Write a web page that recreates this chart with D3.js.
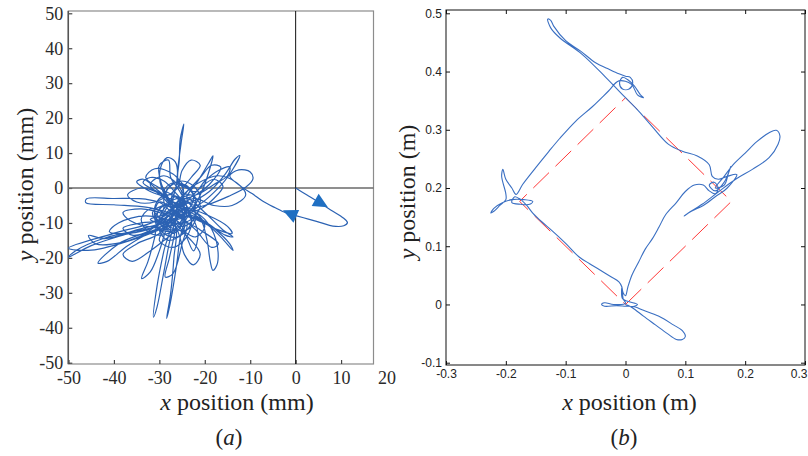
<!DOCTYPE html>
<html>
<head>
<meta charset="utf-8">
<script src="https://cdn.jsdelivr.net/npm/d3@7"></script>
<style>
  body { margin: 0; background: #fff; }
  svg { display: block; }
</style>
</head>
<body>
<script>
// ---- panel (a): sway path in mm ----
const xTicksA = [-50, -40, -30, -20, -10, 0, 10, 20];
const yTicksA = [-50, -40, -30, -20, -10, 0, 10, 20, 30, 40, 50];

const pathA = [
  [0, 0], [2.5, -2], [5, -4], [8, -6.5], [10.5, -8.6], [11.4, -9.9], [10.6, -10.8], [8.2, -10.9],
  [5.5, -9.9], [2.8, -8.9], [0, -7.9], [-2.2, -7.1], [-4.6, -5.6], [-7.2, -3.8], [-9.6, -1.6], [-12.2, 0.6],
  [-14.5, 3.5], [-12.5, 5.2], [-10, 4.6], [-9.4, 2.6], [-11, 0.2], [-14.8, -2.4], [-19.5, -4.8],
  [-24, -6], [-27.5, -4.5], [-28.5, -1], [-26.5, 1.5], [-24.8, 0], [-25, -4], [-26.5, -9], [-28.5, -12], [-30, -9], [-29, -5],
  [-33, -3.2], [-40, -3], [-46, -3.1], [-46.2, -4.2], [-40, -4.8], [-33, -5.5], [-28, -7],
  [-24.5, -8.5], [-22, -5], [-23, -1], [-25.8, 1.8],
  [-25.6, 8], [-25.4, 14], [-24.6, 18.3], [-25.2, 13], [-25.9, 6], [-26.4, 0],
  [-27.5, -3], [-30.5, -1], [-33.6, 1.6], [-32, 3], [-29, 2], [-26, -2],
  [-23, -6], [-21, -2], [-19.5, 3], [-18.2, 9.2], [-19.2, 7], [-21.5, 2], [-24, -3],
  [-22, -5], [-17, 0], [-14, 5], [-12.3, 9.3], [-13.3, 8.3], [-15.5, 4], [-19, -1], [-23, -4],
  [-27, -5], [-29.5, 0], [-29.8, 5.5], [-28.3, 8.7], [-26.5, 7.5], [-26, 3], [-26.8, -2],
  [-28, -8], [-31, -11], [-36.5, -9.3], [-38, -7], [-34, -6], [-29, -7.5],
  [-25.5, -10], [-24, -14], [-22.5, -18], [-21.5, -13], [-23.5, -7],
  [-26, -4], [-22, -2], [-19, 1], [-16.5, 6], [-18.5, 6.5], [-21, 3], [-24.5, -2],
  [-28, -9], [-35, -12], [-42, -14.5], [-45.6, -13.6], [-44, -16], [-38, -15.5], [-31, -12],
  [-27.5, -10], [-29, -18], [-30.5, -28], [-31.3, -37], [-30.5, -34], [-29, -24], [-27.5, -14],
  [-26, -8], [-24.5, -5], [-26.5, -2.5], [-28.5, -6],
  [-31, -11], [-38, -13.5], [-45, -16.5], [-50, -19.8], [-48.5, -18], [-42, -14.3], [-35, -12.3], [-29, -11],
  [-26.5, -11], [-26.8, -20], [-27.5, -30], [-28.4, -37.3], [-27.6, -33], [-26.2, -22], [-25.2, -13],
  [-23.5, -8], [-21, -9], [-19.5, -15], [-18.8, -21], [-18.2, -23.6], [-17.2, -21.5], [-17.5, -15], [-20, -9], [-23, -6.5],
  [-27, -7], [-32, -12], [-39, -16], [-43.5, -21.5], [-41.5, -21], [-37, -16.5], [-31.5, -12.5],
  [-28, -11], [-25, -8], [-20, -10], [-16.5, -14], [-13.8, -17.9], [-14.5, -16], [-18, -11.5], [-23, -7],
  [-27, -4], [-30, -6], [-31, -14], [-32.5, -21], [-33.9, -25.9], [-32, -24], [-30, -18], [-28.5, -12],
  [-26, -6], [-24, -3], [-20, -7], [-16, -12], [-13.8, -14], [-15.5, -13.5], [-19.5, -10], [-24, -7],
  [-28, -3], [-32, -1], [-35, 1.8], [-33.5, 2.5], [-30.5, -0.5], [-27, -5],
  [-30, -9], [-40, -13], [-50, -17.2], [-45, -17.8], [-34, -14], [-28, -11],
  [-24, -10], [-25, -16], [-27, -24.5], [-28.7, -25.5], [-27.8, -20], [-26.5, -12],
  [-26, -6], [-22.5, -3], [-18, -5], [-14, -5], [-11, -2], [-13, 1.5], [-17, 3.5], [-22, 1], [-25.5, -3],
  [-29, -9], [-34, -10], [-38, -11.5], [-36, -13.5], [-31, -12], [-27, -9],
  [-24, -6], [-25.5, -1], [-27.5, 3], [-28, 8], [-30, 6.5], [-29.5, 1], [-27.5, -4],
  [-26, -8], [-21, -12], [-17, -16], [-18.5, -17], [-22, -12], [-25.5, -8],
  [-28.5, -5], [-31.5, -7], [-30, -10], [-26.5, -9], [-23.5, -6], [-22.5, -2], [-24.5, 1], [-27, -1], [-27, -6],
  [-25, -11], [-22, -8], [-24, -4], [-27.5, -6], [-29.5, -9], [-27, -13], [-24.5, -9], [-25.5, -5],
  [-26, -3], [-30, 0], [-33, 3], [-31, 5.5], [-27, 4], [-24, 0],
  [-22, -1], [-20, 2], [-17, 5], [-14.5, 6], [-15, 3.5], [-18, 1], [-22, -2],
  [-25, -1], [-23, 3], [-21, 6.5], [-23, 8], [-25, 5], [-26, 0],
  [-28, -2], [-31, -4], [-35, -4], [-37, -2], [-34, 0], [-30, -1.5], [-27, -4],
  [-25, -7], [-21, -6], [-18, -3], [-16, 0.5], [-18, 2.5], [-21, 0], [-24, -4],
  [-27, -8], [-30, -12], [-28, -15], [-25, -13], [-24.5, -9], [-27, -6], [-30, -4], [-31, -8], [-28, -11],
  [-24, -12], [-22, -9], [-23, -5], [-26, -3], [-29, -6], [-30, -10], [-27, -12], [-25, -10], [-26, -7],
  [-30, -13], [-35, -16], [-38, -19], [-36, -21], [-32, -18], [-28, -14],
  [-26, -12], [-23, -15], [-21, -19], [-22.5, -22], [-24.5, -19], [-25.5, -14],
  [-27, -10], [-33, -8], [-39, -10], [-41, -12.5], [-37, -13], [-31, -11],
  [-28, -8], [-24, -6], [-19, -8], [-15, -11], [-14, -13], [-17, -12], [-22, -9], [-26, -7],
  [-29, -3], [-32, 1], [-29, 3.5], [-26, 1], [-25, -3], [-28, -7], [-32, -9], [-29, -10], [-26, -9],
  [-24, -8], [-21, -4], [-22, 0], [-25, 2], [-28, 0], [-29, -4], [-27, -7], [-24, -6], [-23, -10],
  [-26, -14], [-29, -13], [-31, -9], [-29, -5], [-26, -5], [-22, -7], [-20, -11], [-22, -14], [-25, -12],
  [-28, -8], [-32, -6], [-34, -9], [-32, -13], [-28, -13], [-25, -9], [-24, -5], [-27, -2], [-30, -3],
  [-31, -7], [-27, -10], [-23, -9], [-21, -5], [-23, -2], [-26, -4], [-28, -10], [-30, -15], [-27, -17],
  [-24, -14], [-23, -9], [-26, -6], [-29, -1], [-27, 1.5], [-23.5, 0], [-22, -4], [-25, -8],
  [-28.5, -7.5], [-30.5, -11], [-28, -12.5], [-25.5, -11], [-24, -7], [-26, -3]
];

// direction arrows on the path: base centre -> tip
const arrowsA = [
  { x0: 4.3, y0: -3.4, x1: 7.1, y1: -5.5 },
  { x0: 0.15, y0: -8.1, x1: -2.8, y1: -6.4 }
];

// ---- panel (b): walking path in m ----
const xTicksB = [-0.3, -0.2, -0.1, 0, 0.1, 0.2, 0.3];
const yTicksB = [-0.1, 0, 0.1, 0.2, 0.3, 0.4, 0.5];

const targetB = [[0, 0], [0.177, 0.177], [0, 0.355], [-0.177, 0.177], [0, 0]];

const pathB = [
  [0.0, 0.0], [0.01, -0.004], [0.02, 0.0], [0.005, 0.005], [-0.005, 0.01], [-0.006, 0.03], [-0.004, 0.02], [0.0, 0.015], [0.004, 0.03],
  [0.011, 0.051], [0.022, 0.073], [0.033, 0.095], [0.045, 0.113], [0.056, 0.133], [0.067, 0.154], [0.085, 0.175], [0.1, 0.194], [0.115, 0.205], [0.13, 0.205],
  [0.14, 0.195], [0.15, 0.19], [0.155, 0.2], [0.148, 0.21], [0.14, 0.205], [0.15, 0.195], [0.165, 0.21], [0.176, 0.237], [0.172, 0.225], [0.165, 0.205],
  [0.15, 0.2], [0.165, 0.22], [0.18, 0.24], [0.2, 0.26], [0.22, 0.28], [0.24, 0.295], [0.252, 0.299], [0.258, 0.29], [0.255, 0.275],
  [0.24, 0.252], [0.212, 0.232], [0.184, 0.215], [0.156, 0.194], [0.128, 0.172], [0.105, 0.157], [0.098, 0.152], [0.11, 0.16],
  [0.13, 0.17], [0.15, 0.185], [0.17, 0.2], [0.186, 0.223], [0.17, 0.22], [0.155, 0.215],
  [0.145, 0.22], [0.14, 0.24], [0.12, 0.255], [0.095, 0.263], [0.072, 0.275], [0.045, 0.305], [0.022, 0.332], [0.0, 0.355],
  [-0.033, 0.39], [-0.073, 0.43], [-0.11, 0.458], [-0.125, 0.475], [-0.13, 0.49], [-0.125, 0.488], [-0.12, 0.478], [-0.1, 0.453],
  [-0.075, 0.435], [-0.05, 0.415], [-0.03, 0.405], [-0.011, 0.396], [0.0, 0.392], [0.008, 0.39], [0.012, 0.38], [0.006, 0.37],
  [-0.005, 0.37], [-0.01, 0.38], [-0.005, 0.39], [0.005, 0.385], [0.015, 0.375], [0.025, 0.36], [0.03, 0.355], [0.02, 0.36], [0.01, 0.378],
  [-0.011, 0.384], [-0.028, 0.367], [-0.055, 0.34], [-0.083, 0.315], [-0.11, 0.285], [-0.128, 0.263], [-0.15, 0.235], [-0.172, 0.206], [-0.183, 0.189],
  [-0.19, 0.2], [-0.2, 0.215], [-0.205, 0.232], [-0.207, 0.22], [-0.2, 0.19], [-0.2, 0.18], [-0.21, 0.17], [-0.22, 0.16], [-0.225, 0.157],
  [-0.22, 0.165], [-0.205, 0.175], [-0.19, 0.18], [-0.17, 0.18], [-0.155, 0.177], [-0.16, 0.172], [-0.175, 0.172], [-0.19, 0.175], [-0.185, 0.185], [-0.175, 0.18],
  [-0.165, 0.17], [-0.155, 0.157], [-0.14, 0.142], [-0.122, 0.126], [-0.1, 0.105], [-0.078, 0.082], [-0.06, 0.07], [-0.044, 0.06],
  [-0.025, 0.048], [-0.011, 0.039], [-0.006, 0.03], [-0.004, 0.01], [0.0, 0.002],
  [-0.02, 0.0], [-0.035, 0.003], [-0.04, 0.0], [-0.035, -0.003], [-0.015, -0.002], [0.0, -0.003], [0.015, -0.004], [0.03, -0.01],
  [0.055, -0.02], [0.08, -0.035], [0.095, -0.045], [0.1, -0.055], [0.095, -0.06], [0.085, -0.06], [0.07, -0.05], [0.05, -0.035],
  [0.03, -0.02], [0.012, -0.006], [0.003, -0.001]
];

const W = 808, H = 456;
const serif = '"Times New Roman", "Liberation Serif", Times, serif';
const sans = 'Arial, "Liberation Sans", Helvetica, sans-serif';

const svg = d3.select('body').append('svg')
  .attr('width', W)
  .attr('height', H);

svg.append('rect').attr('width', W).attr('height', H).attr('fill', '#fff');

// =================== panel (a) ===================
const boxA = { left: 68.3, right: 373.5, top: 11, bottom: 364 };
const xA = d3.scaleLinear().domain([-50, 20]).range([68.5, 386.5]);
const yA = d3.scaleLinear().domain([-50, 50]).range([362.7, 13.3]);

const gA = svg.append('g');

svg.append('clipPath').attr('id', 'clipA')
  .append('rect')
  .attr('x', boxA.left).attr('y', boxA.top)
  .attr('width', boxA.right - boxA.left).attr('height', boxA.bottom - boxA.top);

// frame
gA.append('rect')
  .attr('x', boxA.left).attr('y', boxA.top)
  .attr('width', boxA.right - boxA.left).attr('height', boxA.bottom - boxA.top)
  .attr('fill', 'none').attr('stroke', '#8c8c8c').attr('stroke-width', 1.2);

// axes
const axA_left = gA.append('g')
  .attr('transform', 'translate(' + boxA.left + ',0)')
  .call(d3.axisLeft(yA).tickValues(yTicksA).tickFormat(d => String(d)).tickSize(-4).tickPadding(5));
const axA_bottom = gA.append('g')
  .attr('transform', 'translate(0,' + boxA.bottom + ')')
  .call(d3.axisBottom(xA).tickValues(xTicksA).tickFormat(d => String(d)).tickSize(-4).tickPadding(7));

[axA_left, axA_bottom].forEach(ax => {
  ax.attr('font-family', null).attr('font-size', null);
  ax.select('.domain').remove();
  ax.selectAll('.tick line').attr('stroke', '#444').attr('stroke-width', 1.2);
  ax.selectAll('.tick text')
    .attr('font-family', serif).attr('font-size', 18).attr('fill', '#2a2a2a');
});
axA_bottom.selectAll('.tick line').filter(d => xA(d) > boxA.right).remove();

gA.append('line')
  .attr('x1', boxA.left).attr('x2', boxA.left)
  .attr('y1', boxA.top).attr('y2', boxA.bottom)
  .attr('stroke', '#555').attr('stroke-width', 1.5);

// zero cross
gA.append('line')
  .attr('x1', boxA.left).attr('x2', boxA.right)
  .attr('y1', yA(0)).attr('y2', yA(0))
  .attr('stroke', '#6a6a6a').attr('stroke-width', 1.3);
gA.append('line')
  .attr('x1', xA(0)).attr('x2', xA(0))
  .attr('y1', boxA.top).attr('y2', boxA.bottom)
  .attr('stroke', '#111').attr('stroke-width', 1);

// trajectory
const lineA = d3.line()
  .x(d => xA(d[0]))
  .y(d => yA(d[1]))
  .curve(d3.curveCatmullRom.alpha(0.5));

gA.append('path')
  .datum(pathA)
  .attr('clip-path', 'url(#clipA)')
  .attr('d', lineA)
  .attr('fill', 'none')
  .attr('stroke', '#2b62b3')
  .attr('stroke-width', 1.2)
  .attr('stroke-linejoin', 'round');

// arrow heads
gA.selectAll('path.arrow')
  .data(arrowsA)
  .enter().append('path')
  .attr('class', 'arrow')
  .attr('d', a => {
    const bx = xA(a.x0), by = yA(a.y0), tx = xA(a.x1), ty = yA(a.y1);
    const dx = tx - bx, dy = ty - by, len = Math.hypot(dx, dy);
    const nx = -dy / len * 7, ny = dx / len * 7;
    return 'M' + tx + ',' + ty + 'L' + (bx + nx) + ',' + (by + ny) + 'L' + (bx - nx) + ',' + (by - ny) + 'Z';
  })
  .attr('fill', '#1f6fc2');

// titles
function title(g, x, y, rotate, italic, rest) {
  const t = g.append('text')
    .attr('transform', 'translate(' + x + ',' + y + ')' + (rotate ? ' rotate(-90)' : ''))
    .attr('text-anchor', 'middle')
    .attr('font-family', serif).attr('font-size', 24).attr('fill', '#222');
  t.append('tspan').attr('font-style', 'italic').text(italic);
  t.append('tspan').text(rest);
}
function caption(g, x, y, letter) {
  const t = g.append('text')
    .attr('x', x).attr('y', y)
    .attr('text-anchor', 'middle')
    .attr('font-family', serif).attr('font-size', 23).attr('fill', '#222');
  t.append('tspan').text('(');
  t.append('tspan').attr('font-style', 'italic').text(letter);
  t.append('tspan').text(')');
}

title(gA, 237, 410, false, 'x', ' position (mm)');
title(gA, 33, 184.5, true, 'y', ' position (mm)');
caption(gA, 229, 445, 'a');

// =================== panel (b) ===================
const boxB = { left: 446, right: 805, top: 10, bottom: 365 };
const xB = d3.scaleLinear().domain([-0.3, 0.3]).range([446, 805]);
const yB = d3.scaleLinear().domain([-0.1, 0.5]).range([362.7, 13.3]);

const gB = svg.append('g');

const axB_left = gB.append('g')
  .attr('transform', 'translate(' + boxB.left + ',0)')
  .call(d3.axisLeft(yB).tickValues(yTicksB).tickFormat(d => String(d)).tickSize(-4).tickPadding(4));
const axB_right = gB.append('g')
  .attr('transform', 'translate(' + boxB.right + ',0)')
  .call(d3.axisRight(yB).tickValues(yTicksB).tickFormat('').tickSize(-4));
const axB_bottom = gB.append('g')
  .attr('transform', 'translate(0,' + boxB.bottom + ')')
  .call(d3.axisBottom(xB).tickValues(xTicksB).tickFormat(d => String(d)).tickSize(-4).tickPadding(4));
const axB_top = gB.append('g')
  .attr('transform', 'translate(0,' + boxB.top + ')')
  .call(d3.axisTop(xB).tickValues(xTicksB).tickFormat('').tickSize(-4));

[axB_left, axB_right, axB_bottom, axB_top].forEach(ax => {
  ax.attr('font-family', null).attr('font-size', null);
  ax.select('.domain').remove();
  ax.selectAll('.tick line').attr('stroke', '#111');
  ax.selectAll('.tick text')
    .attr('font-family', sans).attr('font-size', 12).attr('fill', '#222');
});
// last x label sits on the page edge: keep it inside
axB_bottom.selectAll('.tick text').filter(d => d === xTicksB[xTicksB.length - 1])
  .attr('text-anchor', 'end').attr('x', W - 1 - xB(xTicksB[xTicksB.length - 1]));

gB.append('rect')
  .attr('x', boxB.left).attr('y', boxB.top)
  .attr('width', boxB.right - boxB.left).attr('height', boxB.bottom - boxB.top)
  .attr('fill', 'none').attr('stroke', '#111').attr('stroke-width', 1);

const lineB = d3.line()
  .x(d => xB(d[0]))
  .y(d => yB(d[1]));

// target square (dashed red)
gB.append('path')
  .datum(targetB)
  .attr('d', lineB)
  .attr('fill', 'none')
  .attr('stroke', '#ff3838')
  .attr('stroke-width', 1)
  .attr('stroke-dasharray', '22,9');

gB.append('path')
  .datum(pathB)
  .attr('d', lineB.curve(d3.curveCatmullRom.alpha(0.5)))
  .attr('fill', 'none')
  .attr('stroke', '#3a6fc2')
  .attr('stroke-width', 1.1)
  .attr('stroke-linejoin', 'round');

title(gB, 629.5, 410, false, 'x', ' position (m)');
title(gB, 415, 192, true, 'y', ' position (m)');
caption(gB, 624, 445, 'b');
</script>
</body>
</html>
